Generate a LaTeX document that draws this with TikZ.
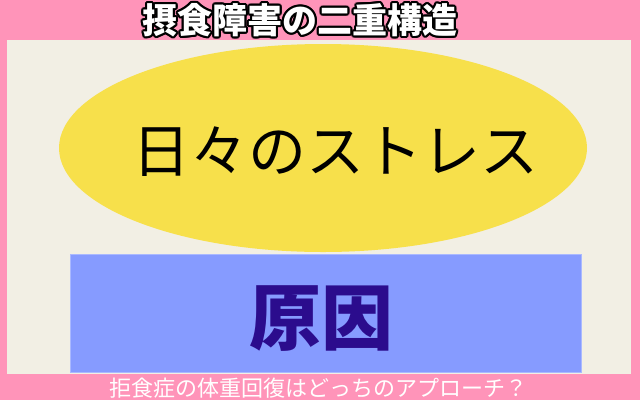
\documentclass[tikz,border=0pt]{standalone}
\usepackage{fontspec}
\setmainfont{Noto Sans CJK JP}
\usetikzlibrary{shapes.geometric,positioning}
\definecolor{bgpink}{HTML}{FF94B9}
\definecolor{panel}{HTML}{F2EFE4}
\definecolor{stressfill}{HTML}{F7E04B}
\definecolor{causefill}{HTML}{869BFF}
\definecolor{causetext}{HTML}{2B0C8D}

\tikzset{
  titletext/.style={font=\bfseries\fontsize{35}{35}\selectfont, inner sep=0pt},
}

\begin{document}
\begin{tikzpicture}[x=1pt,y=-1pt]
        % background
        \fill[bgpink] (0,0) rectangle (640,400);
        \useasboundingbox (0,0) rectangle (640,400);
        \fill[panel] (7,40) rectangle (631,374);

        \path
        % upper layer
        (323,148) node[ellipse,fill=stressfill,minimum width=528pt,minimum height=208pt,inner sep=0pt](stress) {}
        (335,152) node[font=\fontsize{58}{58}\selectfont,inner sep=0pt](stresslabel) {日々のストレス}

        % lower layer
        (325.5,313) node[fill=causefill,draw=causefill!70!white,minimum width=511pt,minimum height=118pt,inner sep=0pt](cause) {}
        (321,319) node[font=\bfseries\fontsize{72}{72}\selectfont,text=causetext,inner sep=0pt](causelabel) {原因}

        % caption
        (318,388) node[font=\fontsize{22}{22}\selectfont,text=white,inner sep=0pt](caption) {拒食症の体重回復はどっちのアプローチ？}
        ;

        % title with outline
        \foreach \a in {0,30,...,330}
          \node[titletext,text=black,shift={(\a:2.2pt)}] (title-\a) at (300,20) {摂食障害の二重構造};
        \node[titletext,text=white] (title) at (300,20) {摂食障害の二重構造};
      \end{tikzpicture}
\end{document}
